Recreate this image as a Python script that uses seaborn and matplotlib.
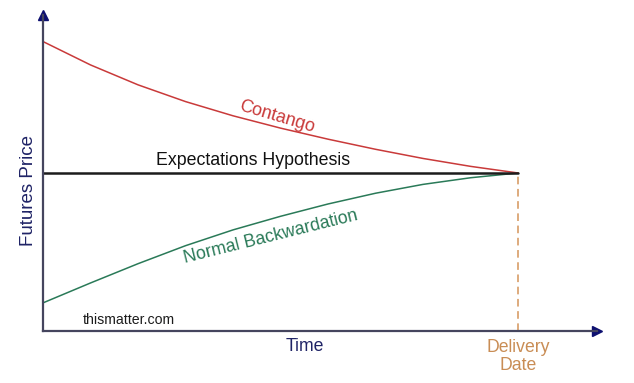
import matplotlib
matplotlib.use("Agg")
import matplotlib.pyplot as plt
import numpy as np
import pandas as pd
import seaborn as sns

# time to delivery (0 = today, 1 = delivery date) and futures prices
time = [0.0, 0.1, 0.2, 0.3, 0.4, 0.5, 0.6, 0.7, 0.8, 0.9, 1.0]
contango = [91.6, 84.2, 77.9, 72.6, 68.1, 64.2, 60.7, 57.5, 54.6, 52.1, 50.0]
backwardation = [8.9, 15.2, 21.3, 27.0, 32.0, 36.3, 40.2, 43.6, 46.4, 48.5, 50.0]
expected = [50.0] * len(time)
delivery_t = 1.0
spot_price = 50.0

sns.set_theme(style="white")
plt.rcParams['font.family'] = ['Liberation Sans', 'DejaVu Sans']

df = pd.DataFrame({
    'Time': time * 3,
    'Price': contango + expected + backwardation,
    'Curve': ['Contango'] * len(time) + ['Expectations'] * len(time) + ['Backwardation'] * len(time),
})
palette = {'Contango': '#c93a3a', 'Expectations': '#1c1c1c', 'Backwardation': '#2a7a58'}
widths = {'Contango': 1.1, 'Expectations': 1.8, 'Backwardation': 1.1}

fig = plt.figure(figsize=(6.34, 3.83), dpi=100)
ax = fig.add_axes([43 / 634, 52 / 383, 554 / 634, 316 / 383])

for name, grp in df.groupby('Curve'):
    sns.lineplot(data=grp, x='Time', y='Price', color=palette[name],
                 linewidth=widths[name], ax=ax, legend=False)

# dashed line down to the delivery date
ax.plot([delivery_t, delivery_t], [0, spot_price], color='#d4955a',
        linestyle=(0, (5, 3)), linewidth=1.1)

ax.set_xlim(0, 1.166)
ax.set_ylim(0, 100)
ax.set_xticks([])
ax.set_yticks([])
ax.set_xlabel('')
ax.set_ylabel('')
for s in ['top', 'right']:
    ax.spines[s].set_visible(False)
for s in ['left', 'bottom']:
    ax.spines[s].set_color('#45455e')
    ax.spines[s].set_linewidth(1.6)

# arrow heads on the axes
ax.plot(1, 0, marker='>', color='#0d1070', markersize=7, transform=ax.transAxes, clip_on=False)
ax.plot(0, 1, marker='^', color='#0d1070', markersize=7, transform=ax.transAxes, clip_on=False)

ax.text(-0.027, 0.446, 'Futures Price', rotation=90, color='#1f2366', fontsize=13.5,
        transform=ax.transAxes, ha='center', va='center')
ax.text(0.473, -0.05, 'Time', color='#1f2366', fontsize=12.7,
        transform=ax.transAxes, ha='center', va='center')
ax.text(delivery_t, -8.0, 'Delivery\nDate', color='#c98d55', fontsize=12.7,
        ha='center', va='center', linespacing=1.1)

ax.text(0.442, 52.5, 'Expectations Hypothesis', color='#111111', fontsize=12.8,
        ha='center', va='baseline')
ax.text(0.493, 67.7, 'Contango', color='#c93a3a', fontsize=13,
        rotation=-16.5, ha='center', va='center')
ax.text(0.48, 29.6, 'Normal Backwardation', color='#2a7a58', fontsize=12.8,
        rotation=14, ha='center', va='center')
ax.text(0.084, 3.5, 'thismatter.com', color='#1c1c1c', fontsize=10.2,
        ha='left', va='center')

fig.savefig('out.png', dpi=100)
